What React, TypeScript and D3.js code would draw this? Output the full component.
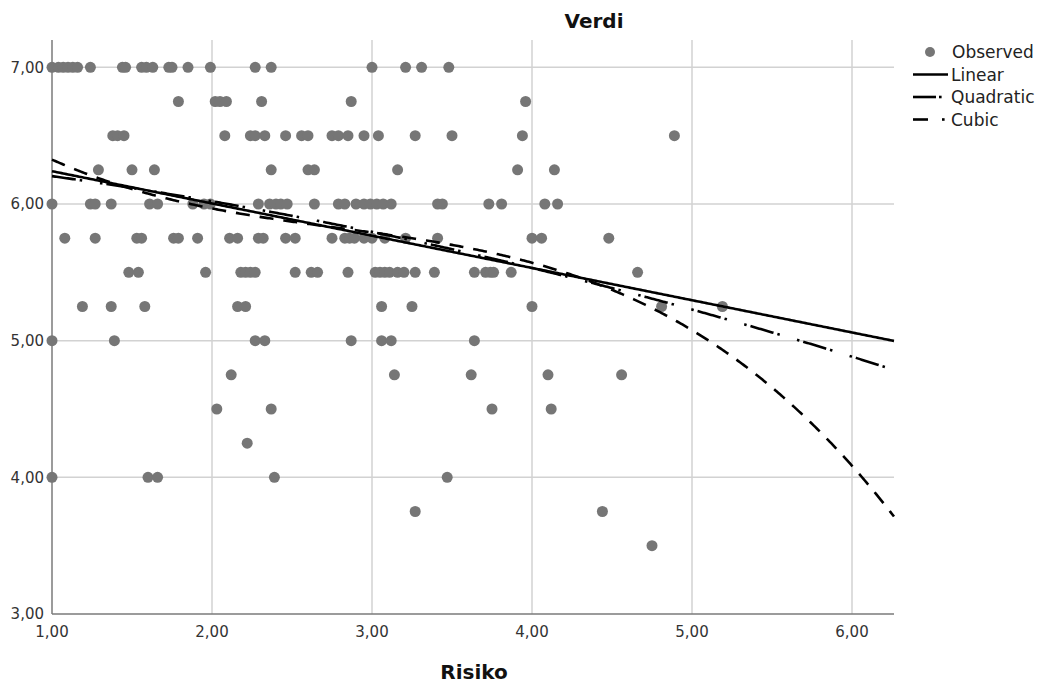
import React from "react";
import * as d3 from "d3";

// observed points, grouped by Verdi value (y), Risiko values (x)
const verdiLevels = [7.0, 6.75, 6.5, 6.25, 6.0, 5.75, 5.5, 5.25, 5.0, 4.75, 4.5, 4.25, 4.0, 3.75, 3.5];
const risikoByLevel = [
  [1.0, 1.04, 1.07, 1.1, 1.13, 1.16, 1.24, 1.44, 1.46, 1.56, 1.59, 1.63, 1.73, 1.75, 1.85, 1.99, 2.27, 2.37, 3.0, 3.21, 3.31, 3.48],
  [1.79, 2.02, 2.05, 2.09, 2.31, 2.87, 3.96],
  [1.38, 1.41, 1.45, 2.08, 2.24, 2.27, 2.33, 2.46, 2.56, 2.6, 2.75, 2.79, 2.85, 2.95, 3.04, 3.27, 3.5, 3.94, 4.89],
  [1.29, 1.5, 1.64, 2.37, 2.6, 2.64, 3.16, 3.91, 4.14],
  [1.0, 1.24, 1.27, 1.37, 1.61, 1.66, 1.88, 1.95, 1.99, 2.29, 2.36, 2.4, 2.43, 2.47, 2.64, 2.79, 2.83, 2.9, 2.95, 2.99, 3.03, 3.07, 3.12, 3.41, 3.44, 3.73, 3.81, 4.08, 4.16],
  [1.08, 1.27, 1.53, 1.56, 1.76, 1.79, 1.91, 2.11, 2.16, 2.29, 2.32, 2.46, 2.52, 2.75, 2.83, 2.86, 2.89, 2.95, 3.0, 3.08, 3.21, 3.41, 4.0, 4.06, 4.48],
  [1.48, 1.54, 1.96, 2.18, 2.21, 2.24, 2.27, 2.52, 2.62, 2.66, 2.85, 3.02, 3.05, 3.08, 3.11, 3.16, 3.2, 3.27, 3.39, 3.64, 3.71, 3.74, 3.76, 3.87, 4.66],
  [1.19, 1.37, 1.58, 2.16, 2.21, 3.06, 3.25, 4.0, 4.81, 5.19],
  [1.0, 1.39, 2.27, 2.33, 2.87, 3.06, 3.12, 3.64],
  [2.12, 3.14, 3.62, 4.1, 4.56],
  [2.03, 2.37, 3.75, 4.12],
  [2.22],
  [1.0, 1.6, 1.66, 2.39, 3.47],
  [3.27, 4.44],
  [4.75],
];

// fitted curve coefficients (constant, x, x^2, x^3), estimated from the drawn curves
const linearCoef = [6.476, -0.236];
const quadraticCoef = [6.3474, -0.12344, -0.0201];
const cubicCoef = [7.0904, -1.0453, 0.31752, -0.0378];

const xTicks = [1, 2, 3, 4, 5, 6];
const yTicks = [3, 4, 5, 6, 7];
const legendNames = ["Observed", "Linear", "Quadratic", "Cubic"];

const fmt = (v: number) => v.toFixed(2).replace(".", ",");
const poly = (c: number[]) => (x: number) => c.reduce((s, k, i) => s + k * Math.pow(x, i), 0);

const font = "'DejaVu Sans', sans-serif";
const pointColor = "#767676";

const Chart = () => {
  const width = 1044;
  const height = 689;
  // plot area
  const left = 52;
  const right = 894;
  const top = 40;
  const bottom = 614;

  const xScale = d3.scaleLinear().domain([1, 6.2625]).range([left, right]);
  const yScale = d3.scaleLinear().domain([3, 7.2]).range([bottom, top]);

  const points = verdiLevels.flatMap((v, i) => risikoByLevel[i].map((r) => ({ x: r, y: v })));

  const xs = d3.range(1, 6.2625, 0.01).concat([6.2625]);
  const line = d3
    .line<number[]>()
    .x((d) => xScale(d[0]))
    .y((d) => yScale(d[1]));
  const curve = (c: number[]) => line(xs.map((x) => [x, poly(c)(x)])) || "";

  const fits = [
    { name: "Linear", coef: linearCoef, dash: "none" },
    { name: "Quadratic", coef: quadraticCoef, dash: "24,4,2.5,18,2.5,4" },
    { name: "Cubic", coef: cubicCoef, dash: "14,10" },
  ];

  const legendX = 913;
  const legendY = 52;
  const legendStep = 22.5;

  return (
    <svg width={width} height={height} style={{ position: "absolute", left: 0, top: 0 }}>
      <rect width={width} height={height} fill="#fff" />
      <text x={594} y={28} textAnchor="middle" fontFamily={font} fontWeight="bold" fontSize={20} fill="#111">
        Verdi
      </text>

      {/* grid */}
      <g stroke="#d2d2d2" strokeWidth={1.5}>
        {xTicks.slice(1).map((t) => (
          <line key={"gx" + t} x1={xScale(t)} x2={xScale(t)} y1={top} y2={bottom} />
        ))}
        {yTicks.slice(1).map((t) => (
          <line key={"gy" + t} x1={left} x2={right} y1={yScale(t)} y2={yScale(t)} />
        ))}
      </g>

      {/* axes */}
      <line x1={left} x2={left} y1={top} y2={bottom} stroke="#7a7a7a" strokeWidth={1.5} />
      <line x1={left} x2={right} y1={bottom} y2={bottom} stroke="#7a7a7a" strokeWidth={1.5} />

      {yTicks.map((t) => (
        <text key={"ty" + t} x={44} y={yScale(t)} dy="0.36em" textAnchor="end" fontFamily={font} fontSize={15} fill="#333">
          {fmt(t)}
        </text>
      ))}
      {xTicks.map((t) => (
        <text key={"tx" + t} x={xScale(t)} y={637} textAnchor="middle" fontFamily={font} fontSize={15} fill="#333">
          {fmt(t)}
        </text>
      ))}
      <text x={474} y={679} textAnchor="middle" fontFamily={font} fontWeight="bold" fontSize={20} fill="#111">
        Risiko
      </text>

      {/* observed */}
      <g fill={pointColor}>
        {points.map((p, i) => (
          <circle key={i} cx={xScale(p.x)} cy={yScale(p.y)} r={5.5} />
        ))}
      </g>

      {/* fitted curves */}
      <g fill="none" stroke="#000" strokeWidth={2.6}>
        {fits.map((f) => (
          <path key={f.name} d={curve(f.coef)} strokeDasharray={f.dash} />
        ))}
      </g>

      {/* legend */}
      <g fontFamily={font} fontSize={17} fill="#222">
        <circle cx={930} cy={legendY} r={5} fill={pointColor} />
        <text x={952} y={legendY + 6}>
          {legendNames[0]}
        </text>
        <line x1={legendX} x2={948} y1={legendY + legendStep} y2={legendY + legendStep} stroke="#000" strokeWidth={2.6} />
        <text x={951} y={legendY + legendStep + 6}>
          {legendNames[1]}
        </text>
        <line x1={legendX} x2={936} y1={legendY + 2 * legendStep} y2={legendY + 2 * legendStep} stroke="#000" strokeWidth={2.6} />
        <rect x={939} y={legendY + 2 * legendStep - 1.3} width={2.6} height={2.6} fill="#000" />
        <text x={951} y={legendY + 2 * legendStep + 6}>
          {legendNames[2]}
        </text>
        <line x1={legendX} x2={928} y1={legendY + 3 * legendStep} y2={legendY + 3 * legendStep} stroke="#000" strokeWidth={2.6} />
        <rect x={942} y={legendY + 3 * legendStep - 1.3} width={2.6} height={2.6} fill="#000" />
        <text x={951} y={legendY + 3 * legendStep + 6}>
          {legendNames[3]}
        </text>
      </g>
    </svg>
  );
};

export default function App() {
  return <Chart />;
}
